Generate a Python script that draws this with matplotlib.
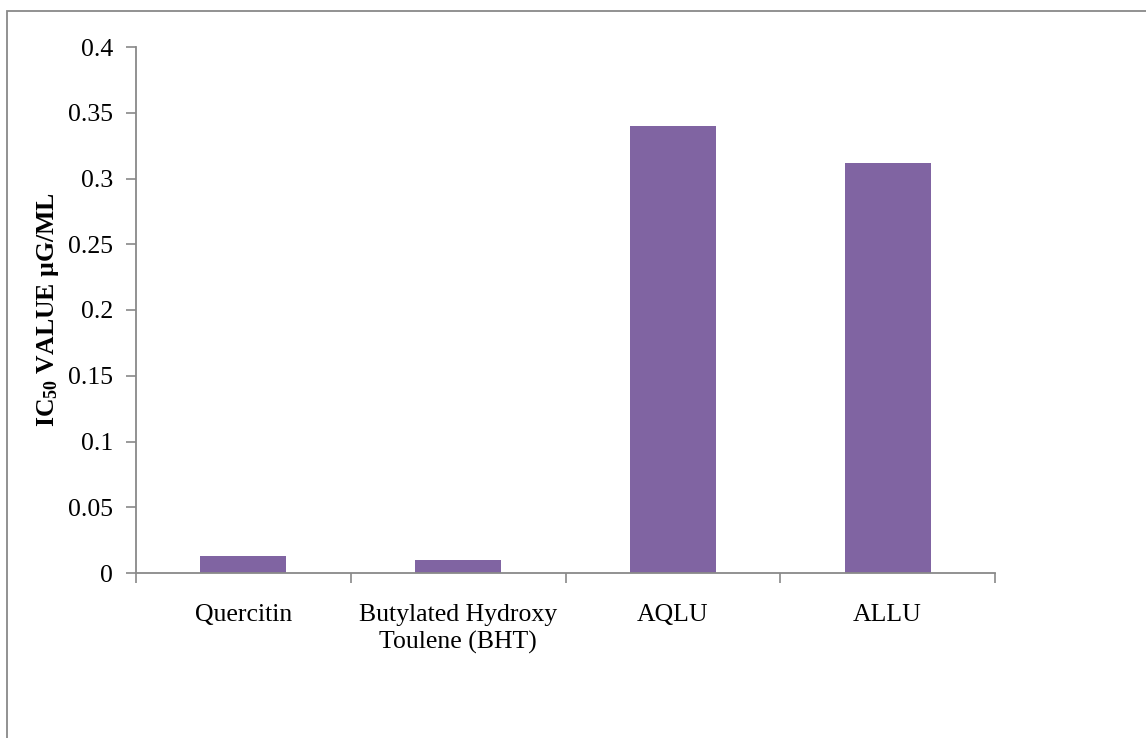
import matplotlib
matplotlib.use("Agg")
from matplotlib import pyplot as plt
from matplotlib.patches import Rectangle

# data
categories = ["Quercitin", "Butylated Hydroxy\nToulene (BHT)", "AQLU", "ALLU"]
ic50_values = [0.013, 0.010, 0.340, 0.312]
y_ticks = [0, 0.05, 0.1, 0.15, 0.2, 0.25, 0.3, 0.35, 0.4]
y_tick_labels = ["0", "0.05", "0.1", "0.15", "0.2", "0.25", "0.3", "0.35", "0.4"]

plt.rcParams['font.family'] = ['Liberation Serif', 'DejaVu Serif']
plt.rcParams['mathtext.fontset'] = 'custom'
plt.rcParams['mathtext.rm'] = 'Liberation Serif:bold'
plt.rcParams['mathtext.it'] = 'Liberation Serif:bold'
plt.rcParams['mathtext.bf'] = 'Liberation Serif:bold'

grey = '#898989'
bar_color = '#8064A2'

fig = plt.figure(figsize=(11.46, 7.38), dpi=100)
ax = fig.add_axes([136 / 1146, 165 / 738, 859 / 1146, 526 / 738])

# outer chart border (right and bottom edges fall outside the picture)
fig.patches.append(Rectangle((7 / 1146, -0.1), 1.2, 1 - 11 / 738 + 0.1,
                             transform=fig.transFigure, fill=False,
                             edgecolor=grey, linewidth=1.3))

x = list(range(len(categories)))
ax.bar(x, ic50_values, width=0.4, color=bar_color, zorder=2)

ax.set_xlim(-0.5, len(categories) - 0.5)
ax.set_ylim(0, 0.4)

ax.set_yticks(y_ticks)
ax.set_yticklabels(y_tick_labels)
ax.set_xticks(x)
ax.set_xticklabels(categories, linespacing=1.3)
ax.set_xticks([i - 0.5 for i in range(len(categories) + 1)], minor=True)

ax.tick_params(axis='y', direction='out', length=7, width=1.2, color=grey,
               labelsize=18.5, pad=9.5)
ax.tick_params(axis='x', which='major', length=0, labelsize=18.5, pad=22)
ax.tick_params(axis='x', which='minor', direction='out', length=7, width=1.2,
               color=grey)

for side in ['top', 'right']:
    ax.spines[side].set_visible(False)
for side in ['left', 'bottom']:
    ax.spines[side].set_color(grey)
    ax.spines[side].set_linewidth(1.3)

ax.set_ylabel(r'IC$_{50}$ VALUE µG/ML', fontsize=18.5, fontweight='bold',
              labelpad=5)

fig.savefig("out.png", dpi=100)
